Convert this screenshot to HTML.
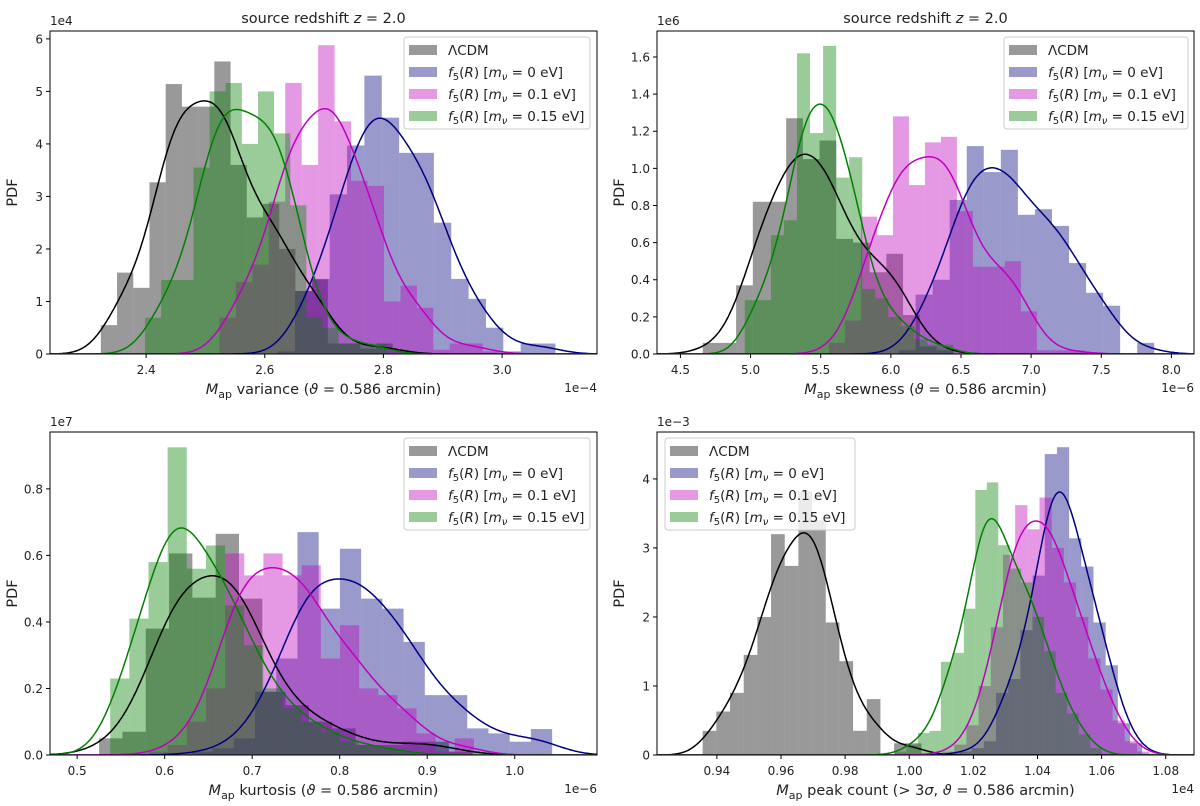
<!DOCTYPE html>
<html><head><meta charset="utf-8"><style>
body{margin:0;background:#fff}
svg{display:block;font-family:"DejaVu Sans","Liberation Sans",sans-serif}
</style></head><body>
<svg id="fig" width="1200" height="806" viewBox="0 0 1200 806" xmlns="http://www.w3.org/2000/svg"></svg>
<script>
// ---------- data ----------
// panel 1: variance (x in 1e-4, y in 1e4)
const p1Gray={start:2.3237,width:0.02733,values:[0.55,1.55,1.26,3.27,5.14,4.71,4.71,5.57,3.6,2.6,2.86,2.0,1.2,1.42,0.2,0.2,0.1,0.2,0.05]};
const p1Blue={start:2.6216,width:0.02927,values:[0.05,1.2,1.43,3.04,3.97,5.3,4.5,3.83,3.83,2.5,1.43,1.05,0.5,0.05,0.2,0.2]};
const p1Pink={start:2.5235,width:0.02775,values:[0.69,1.37,1.7,2.9,5.16,3.6,5.88,4.43,3.3,3.2,1.0,1.3,0.88,0.08,0.2,0.2,0.05]};
const p1Green={start:2.3982,width:0.0272,values:[0.69,1.41,1.41,3.55,5.0,5.16,4.0,5.0,4.2,2.83,0.7,0.5,0.2,0.2,0.2]};
// panel 2: skewness (x in 1e-6, y in 1e6)
const p2Gray={start:4.659,width:0.119,values:[0.06,0.06,0.37,0.82,0.82,1.27,1.05,1.15,0.62,0.6,0.44,0.54,0.21,0.04,0.02]};
const p2Blue={start:6.055,width:0.1215,values:[0.02,0.32,0.4,0.83,1.12,0.98,1.1,0.75,0.78,0.69,0.49,0.33,0.26,0,0.06]};
const p2Pink={start:5.559,width:0.114,values:[0.06,0.18,0.74,0.64,1.28,0.91,1.14,1.17,0.77,0.47,0.47,0.5,0.23,0.02,0.02,0.02]};
const p2Green={start:4.959,width:0.093,values:[0.29,0.29,0.64,0.72,1.62,1.19,1.66,0.95,1.06,0.35,0.3,0.2,0.15,0.08,0.05,0.05]};
// panel 3: kurtosis (x in 1e-6, y in 1e7)
const p3Gray={start:0.5251,width:0.02664,values:[0.05,0.07,0.38,0.606,0.473,0.665,0.47,0.19,0.15,0.1,0.08,0.03,0.03,0.04,0.04,0.01]};
const p3Blue={start:0.6305,width:0.02425,values:[0.01,0.02,0.05,0.19,0.29,0.67,0.44,0.62,0.47,0.44,0.34,0.18,0.18,0.08,0.065,0.04,0.078]};
const p3Pink={start:0.5816,width:0.02187,values:[0.01,0.03,0.1,0.2,0.606,0.54,0.606,0.54,0.57,0.29,0.39,0.2,0.18,0.14,0.065,0.01,0.05]};
const p3Green={start:0.5378,width:0.02187,values:[0.23,0.41,0.58,0.925,0.56,0.63,0.45,0.33,0.2,0.14,0.1,0.07,0.04,0.03,0.02,0.01]};
// panel 4: peak count (x in 1e4, y in 1e-3)
const p4Gray={start:0.93557,width:0.004265,values:[0.35,0.63,0.9,1.45,2.0,3.2,2.74,3.82,3.4,1.92,1.36,0.35,0.81,0,0.17,0.17]};
const p4Blue={start:1.01187,width:0.0038,values:[0.02,0.05,0.1,0.2,0.9,1.1,1.81,2.6,4.36,4.46,3.14,2.73,1.92,1.3,0.46,0.17,0.02]};
const p4Pink={start:1.00644,width:0.0038,values:[0.02,0.05,0.15,0.43,1.0,1.85,2.9,3.62,3.27,3.73,3.0,2.5,2.0,1.4,0.95,0.5,0.2,0.05]};
const p4Green={start:0.99555,width:0.00358,values:[0.05,0.15,0.32,0.35,1.35,1.48,2.12,3.84,3.95,3.04,2.7,2.5,2.0,1.5,0.9,0.6,0.3,0.1]};
// ticks
const p1XTicks=[2.4,2.6,2.8,3.0], p1XLabels=["2.4","2.6","2.8","3.0"];
const p1YTicks=[0,1,2,3,4,5,6], p1YLabels=["0","1","2","3","4","5","6"];
const p2XTicks=[4.5,5.0,5.5,6.0,6.5,7.0,7.5,8.0], p2XLabels=["4.5","5.0","5.5","6.0","6.5","7.0","7.5","8.0"];
const p2YTicks=[0,0.2,0.4,0.6,0.8,1.0,1.2,1.4,1.6], p2YLabels=["0.0","0.2","0.4","0.6","0.8","1.0","1.2","1.4","1.6"];
const p3XTicks=[0.5,0.6,0.7,0.8,0.9,1.0], p3XLabels=["0.5","0.6","0.7","0.8","0.9","1.0"];
const p3YTicks=[0,0.2,0.4,0.6,0.8], p3YLabels=["0.0","0.2","0.4","0.6","0.8"];
const p4XTicks=[0.94,0.96,0.98,1.00,1.02,1.04,1.06,1.08], p4XLabels=["0.94","0.96","0.98","1.00","1.02","1.04","1.06","1.08"];
const p4YTicks=[0,1,2,3,4], p4YLabels=["0","1","2","3","4"];

// ---------- drawing ----------
const NS="http://www.w3.org/2000/svg";
const svg=document.getElementById('fig');
function mk(tag,attrs,parent){const e=document.createElementNS(NS,tag);for(const k in attrs)e.setAttribute(k,attrs[k]);(parent||svg).appendChild(e);return e;}
const FILL={gray:"rgba(0,0,0,0.4)",blue:"rgba(0,0,128,0.4)",pink:"rgba(191,0,191,0.4)",green:"rgba(0,128,0,0.4)"};
const LINE={gray:"#000",blue:"#000080",pink:"#bf00bf",green:"#008000"};

function panel(id,box,xd,yd,series,xt,xl,yt,yl,xlabelParts,xOff,yOff,title,legendBox){
  const g=mk('g',{});
  
  
  const sx=v=>box.x0+(v-xd[0])/(xd[1]-xd[0])*(box.x1-box.x0);
  const sy=v=>box.y1-(v-yd[0])/(yd[1]-yd[0])*(box.y1-box.y0);
  const cid='clip-'+id;
  const cp=mk('clipPath',{id:cid},g);
  mk('rect',{x:box.x0,y:box.y0,width:box.x1-box.x0,height:box.y1-box.y0},cp);
  const plot=mk('g',{'clip-path':'url(#'+cid+')'},g);
  series.forEach(s=>{
    const sg=mk('g',{},plot);
    
    
    s.d.values.forEach((v,i)=>{
      const a=s.d.start+i*s.d.width;
      const x0=sx(a),x1=sx(a+s.d.width);
      const r=mk('rect',{x:x0,y:sy(v),width:Math.max(0,x1-x0),height:Math.max(0,sy(0)-sy(v)),fill:FILL[s.key]},sg);
      
      
    });
  });
  series.forEach(s=>{
    const h=s.d.width*1.15;
    let pts=[];
    for(let k=0;k<=400;k++){
      const x=xd[0]+(xd[1]-xd[0])*k/400;
      let d=0;
      s.d.values.forEach((v,i)=>{const c=s.d.start+(i+0.5)*s.d.width;const z=(x-c)/h;d+=v*s.d.width*Math.exp(-0.5*z*z)/(h*Math.sqrt(2*Math.PI));});
      pts.push(sx(x).toFixed(1)+','+sy(d).toFixed(1));
    }
    const p=mk('polyline',{points:pts.join(' '),fill:'none',stroke:LINE[s.key],'stroke-width':1.5},plot);
    
    
  });
  const fr=mk('rect',{x:box.x0,y:box.y0,width:box.x1-box.x0,height:box.y1-box.y0,fill:'none',stroke:'#000','stroke-width':1},g);
  
  
  xt.forEach((v,i)=>{
    const x=sx(v);
    mk('line',{x1:x,x2:x,y1:box.y1,y2:box.y1+4,stroke:'#000'},g);
    const t=mk('text',{x:x,y:box.y1+20,'text-anchor':'middle','font-size':12,fill:'#222'},g);
    t.textContent=xl[i];
    
    
  });
  yt.forEach((v,i)=>{
    const y=sy(v);
    mk('line',{x1:box.x0-4,x2:box.x0,y1:y,y2:y,stroke:'#000'},g);
    const t=mk('text',{x:box.x0-7,y:y+4.5,'text-anchor':'end','font-size':12,fill:'#222'},g);
    t.textContent=yl[i];
    
    
  });
  const xlab=mk('text',{x:(box.x0+box.x1)/2,y:box.y1+40,'text-anchor':'middle','font-size':14.5,fill:'#222'},g);
  
  
  xlab.innerHTML='<tspan font-style="italic">M</tspan><tspan font-size="11" dy="4">ap</tspan><tspan dy="-4"> '+xlabelParts+'</tspan>';
  const xo=mk('text',{x:box.x1,y:box.y1+38,'text-anchor':'end','font-size':12,fill:'#222'},g);
  xo.textContent=xOff;
  
  
  const yo=mk('text',{x:box.x0,y:box.y0-6,'text-anchor':'start','font-size':12,fill:'#222'},g);
  yo.textContent=yOff;
  
  
  const ylab=mk('text',{x:0,y:0,'text-anchor':'middle','font-size':14.5,fill:'#222',transform:`translate(${box.x0-33},${(box.y0+box.y1)/2}) rotate(-90)`},g);
  ylab.textContent='PDF';
  
  
  if(title){
    const tt=mk('text',{x:(box.x0+box.x1)/2,y:box.y0-8,'text-anchor':'middle','font-size':14.5,fill:'#222'},g);
    tt.innerHTML='source redshift <tspan font-style="italic">z</tspan> = 2.0';
    
    
  }
  const lg=mk('g',{},g);
  
  
  mk('rect',{x:legendBox.x,y:legendBox.y,width:legendBox.w,height:92,rx:3,fill:'rgba(255,255,255,0.8)',stroke:'#ccc'},lg);
  const labels=['ΛCDM','0','0.1','0.15'];
  series.forEach((s,i)=>{
    const y=legendBox.y+13+i*22;
    mk('rect',{x:legendBox.x+5,y:y-5,width:28,height:10,fill:FILL[s.key]},lg);
    const t=mk('text',{x:legendBox.x+44,y:y+5,'font-size':13.5,fill:'#222'},lg);
    
    
    if(i===0)t.textContent='ΛCDM';
    else t.innerHTML='<tspan font-style="italic">f</tspan><tspan font-size="10" dy="3">5</tspan><tspan dy="-3">(</tspan><tspan font-style="italic">R</tspan>) [<tspan font-style="italic">m</tspan><tspan font-size="10" font-style="italic" dy="3">ν</tspan><tspan dy="-3"> = '+labels[i]+' eV]</tspan>';
  });
}
const S=(g,b,p,gr)=>[{key:'gray',d:g},{key:'blue',d:b},{key:'pink',d:p},{key:'green',d:gr}];
panel('panel-variance',{x0:50,x1:597,y0:31,y1:354},[2.238,3.160],[0,6.15],S(p1Gray,p1Blue,p1Pink,p1Green),p1XTicks,p1XLabels,p1YTicks,p1YLabels,'variance (<tspan font-style="italic">ϑ</tspan> = 0.586 arcmin)','1e−4','1e4',true,{x:404,y:37,w:186});
panel('panel-skewness',{x0:657,x1:1194,y0:31,y1:354},[4.333,8.161],[0,1.740],S(p2Gray,p2Blue,p2Pink,p2Green),p2XTicks,p2XLabels,p2YTicks,p2YLabels,'skewness (<tspan font-style="italic">ϑ</tspan> = 0.586 arcmin)','1e−6','1e6',true,{x:1004,y:37,w:184});
panel('panel-kurtosis',{x0:50,x1:597,y0:432,y1:755},[0.469,1.094],[0,0.971],S(p3Gray,p3Blue,p3Pink,p3Green),p3XTicks,p3XLabels,p3YTicks,p3YLabels,'kurtosis (<tspan font-style="italic">ϑ</tspan> = 0.586 arcmin)','1e−6','1e7',false,{x:404,y:438,w:186});
panel('panel-peak-count',{x0:657,x1:1194,y0:432,y1:755},[0.92132,1.08882],[0,4.68],S(p4Gray,p4Blue,p4Pink,p4Green),p4XTicks,p4XLabels,p4YTicks,p4YLabels,'peak count (&gt; 3<tspan font-style="italic">σ</tspan>, <tspan font-style="italic">ϑ</tspan> = 0.586 arcmin)','1e4','1e−3',false,{x:665,y:438,w:190});
</script>
</body></html>
